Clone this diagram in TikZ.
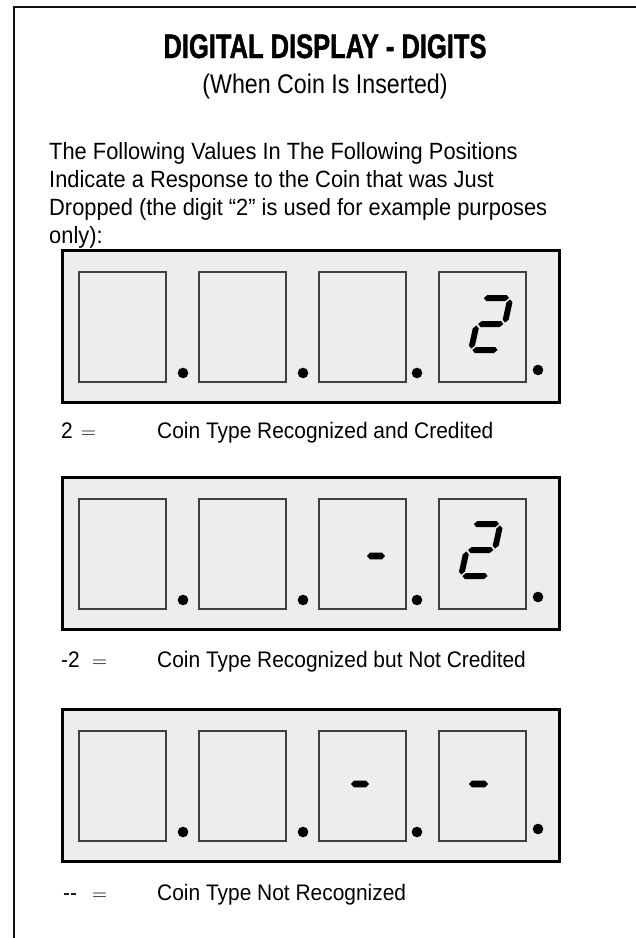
\documentclass[tikz,border=0pt]{standalone}
\usepackage{fontspec}
\setmainfont{Liberation Sans}[FakeStretch=0.93]
\newfontfamily\titlefont{Liberation Sans}[FakeStretch=0.75,FakeBold=1.2]
\newfontfamily\subfont{Liberation Sans}[FakeStretch=0.86]
\definecolor{panel}{HTML}{EDEDED}
\definecolor{framegray}{HTML}{111111}
\def\sg{1.4}
\def\sh{3.0}
\newcommand{\segh}[3]{\fill[segfill] (#1+\sg,#3) -- (#1+\sg+\sh,#3-\sh) -- (#2-\sg-\sh,#3-\sh) -- (#2-\sg,#3) -- (#2-\sg-\sh,#3+\sh) -- (#1+\sg+\sh,#3+\sh) -- cycle;}
\newcommand{\segv}[3]{\fill[segfill] (#1,#2+\sg) -- (#1+\sh,#2+\sg+\sh) -- (#1+\sh,#3-\sg-\sh) -- (#1,#3-\sg) -- (#1-\sh,#3-\sg-\sh) -- (#1-\sh,#2+\sg+\sh) -- cycle;}
\newcommand{\minusseg}[3]{\fill[segfill] (#1,#3) -- (#1+3,#3-3.4) -- (#2-3,#3-3.4) -- (#2,#3) -- (#2-3,#3+3.4) -- (#1+3,#3+3.4) -- cycle;}
\newcommand{\digittwo}[2]{%
  \begin{scope}[shift={(#1,#2)}, xslant=0.22]
    \segh{0}{28}{-52}
    \segv{28}{-52}{-26}
    \segh{0}{28}{-26}
    \segv{0}{-26}{0}
    \segh{0}{28}{0}
  \end{scope}}
\newcommand{\displaypanel}[1]{%
  \draw[outerbox] (62,#1) rectangle (559,#1+152);
  \foreach \bx in {79,199,319,439} {\draw[innerbox] (\bx,#1+22) rectangle (\bx+87,#1+132);}
  \foreach \dx in {183,303,417} {\fill[dotfill] (\dx,#1+123) circle[radius=5.3];}
  \fill[dotfill] (538,#1+120) circle[radius=5.3];}
\begin{document}
\begin{tikzpicture}[x=1pt, y=-1pt,
  outerbox/.style={draw=black, line width=3pt, fill=panel},
  innerbox/.style={draw=black!75, line width=1.2pt, fill=panel},
  dotfill/.style={fill=black},
  segfill/.style={fill=black},
  frameline/.style={draw=framegray, line width=2pt},
  titletext/.style={inner sep=0pt, font=\titlefont\bfseries\fontsize{34}{38}\selectfont},
  subtext/.style={inner sep=0pt, font=\subfont\fontsize{27}{30}\selectfont},
  paratext/.style={inner sep=0pt, font=\fontsize{23.5}{28}\selectfont},
  bodytext/.style={inner sep=0pt, font=\fontsize{22.5}{28}\selectfont}]
\useasboundingbox (0,0) rectangle (636,938);
\fill[white] (0,0) rectangle (636,938);
\draw[frameline] (14,938) -- (14,7) -- (636,7);

\node[titletext, anchor=base] (title) at (325,58) {DIGITAL DISPLAY - DIGITS};
\node[subtext, anchor=base] (subtitle) at (325,93) {(When Coin Is Inserted)};
\node[paratext, anchor=base west] (p1) at (49,159) {The Following Values In The Following Positions};
\node[paratext, anchor=base west] (p2) at (49,187) {Indicate a Response to the Coin that was Just};
\node[paratext, anchor=base west] (p3) at (49,215) {Dropped (the digit “2” is used for example purposes};
\node[paratext, anchor=base west] (p4) at (49,243) {only):};

% display 1
\displaypanel{250}
\digittwo{471}{350}
\node[bodytext, anchor=base west] (k1) at (61,438) {2};
\node[bodytext, anchor=base west] (e1) at (81,438) {$=$};
\node[bodytext, anchor=base west] (t1) at (157,438) {Coin Type Recognized and Credited};

% display 2
\displaypanel{477}
\minusseg{367}{385}{556}
\digittwo{461}{576}
\node[bodytext, anchor=base west] (k2) at (61,667) {-2};
\node[bodytext, anchor=base west] (e2) at (92,667) {$=$};
\node[bodytext, anchor=base west] (t2) at (157,667) {Coin Type Recognized but Not Credited};

% display 3
\displaypanel{709}
\minusseg{351}{369}{784}
\minusseg{469}{488}{784}
\node[bodytext, anchor=base west] (k3) at (63,900) {-{}-};
\node[bodytext, anchor=base west] (e3) at (92,900) {$=$};
\node[bodytext, anchor=base west] (t3) at (157,900) {Coin Type Not Recognized};
\end{tikzpicture}
\end{document}
